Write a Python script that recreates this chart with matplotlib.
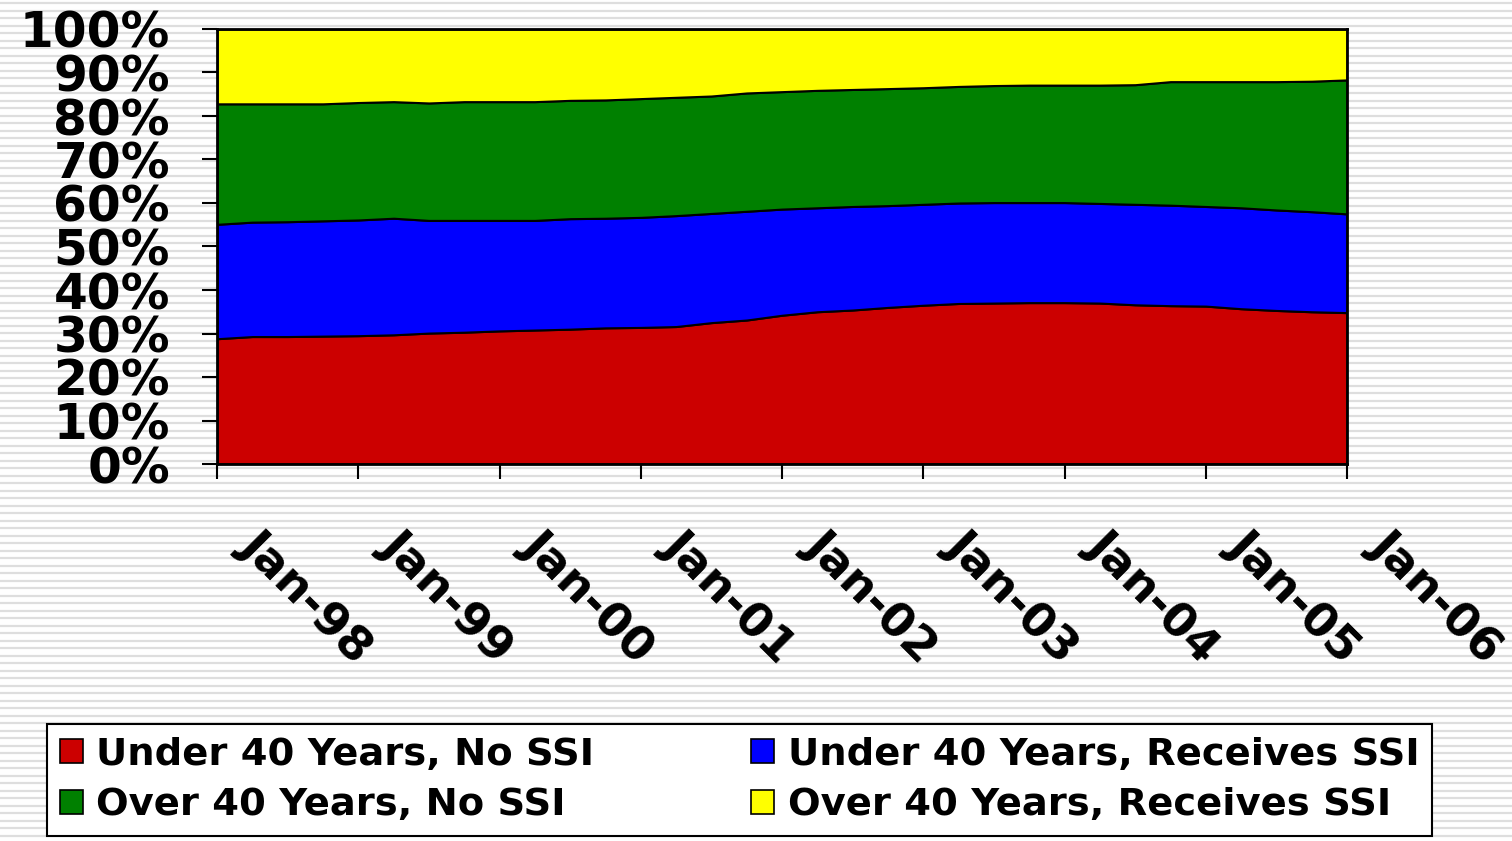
import matplotlib.pyplot as plt
import numpy as np
from matplotlib.patches import Patch
from matplotlib.transforms import ScaledTranslation

# Quarterly shares (%) from Jan-98 to Jan-06
meses = list(range(0, 97, 3))
under_no_ssi = [28.8, 29.3, 29.3, 29.4, 29.5, 29.7, 30.1, 30.3, 30.6, 30.8, 31.0, 31.3,
                31.4, 31.6, 32.5, 33.1, 34.2, 35.0, 35.4, 36.0, 36.5, 36.9, 37.0, 37.1,
                37.1, 37.0, 36.6, 36.4, 36.3, 35.7, 35.3, 35.0, 34.8]
under_ssi = [26.3, 26.3, 26.4, 26.5, 26.6, 26.8, 25.9, 25.7, 25.4, 25.2, 25.4, 25.2,
             25.3, 25.5, 25.1, 25.0, 24.4, 23.9, 23.8, 23.4, 23.2, 23.1, 23.1, 23.0,
             23.0, 22.9, 23.1, 23.1, 22.9, 23.2, 23.1, 23.0, 22.7]
over_no_ssi = [27.7, 27.2, 27.1, 26.9, 27.0, 26.8, 27.0, 27.3, 27.3, 27.3, 27.2, 27.2,
               27.3, 27.2, 27.0, 27.2, 27.0, 27.0, 26.9, 26.9, 26.8, 26.8, 26.9, 27.0,
               27.0, 27.2, 27.5, 28.4, 28.7, 29.0, 29.5, 30.0, 30.8]
over_ssi = [17.2, 17.2, 17.2, 17.2, 16.9, 16.7, 17.0, 16.7, 16.7, 16.7, 16.4, 16.3,
            16.0, 15.7, 15.4, 14.7, 14.4, 14.1, 13.9, 13.7, 13.5, 13.2, 13.0, 12.9,
            12.9, 12.9, 12.8, 12.1, 12.1, 12.1, 12.1, 12.0, 11.7]

etiquetas_x = ['Jan-98', 'Jan-99', 'Jan-00', 'Jan-01', 'Jan-02',
               'Jan-03', 'Jan-04', 'Jan-05', 'Jan-06']
nombres = ['Under 40 Years, No SSI', 'Under 40 Years, Receives SSI',
           'Over 40 Years, No SSI', 'Over 40 Years, Receives SSI']
colores = ['#CC0000', '#0000FF', '#008000', '#FFFF00']

plt.rcParams['font.family'] = 'DejaVu Sans'
plt.rcParams['font.weight'] = 'bold'

fig = plt.figure(figsize=(15.12, 8.41), dpi=100)

# fondo rayado
fondo = fig.add_axes([0, 0, 1, 1], zorder=-10)
fondo.set_xlim(0, 1512)
fondo.set_ylim(841, 0)
for y in np.arange(3, 841, 7.5):
    fondo.axhline(y, color='#dedede', linewidth=1.6)
fondo.axis('off')

ax = fig.add_axes([217 / 1512, 1 - 464 / 841, 1130 / 1512, 435 / 841])
ax.stackplot(meses, under_no_ssi, under_ssi, over_no_ssi, over_ssi,
             colors=colores, edgecolor='black', linewidth=1.5)
ax.set_xlim(0, 96)
ax.set_ylim(0, 100)

ax.set_yticks(range(0, 101, 10))
ax.set_yticklabels([f'{v}%' for v in range(0, 101, 10)], fontsize=35, fontweight='bold')
ax.set_xticks(range(0, 97, 12))
ax.set_xticklabels(etiquetas_x, fontsize=33.5, fontweight='bold',
                   rotation=-45, ha='left', va='top', rotation_mode='anchor')
ax.tick_params(axis='y', direction='out', length=11, width=1.5, pad=23)
ax.tick_params(axis='x', direction='out', length=11, width=1.5, pad=31)
desplaz = ScaledTranslation(0.46, 0, fig.dpi_scale_trans)
for lbl in ax.get_xticklabels():
    lbl.set_transform(lbl.get_transform() + desplaz)
for s in ax.spines.values():
    s.set_linewidth(2)
    s.set_color('black')

# leyenda
handles = [Patch(facecolor=c, edgecolor='black', linewidth=1.2) for c in colores]
orden = [0, 2, 1, 3]
leg = fig.legend([handles[i] for i in orden], [nombres[i] for i in orden],
                 ncol=2, loc='center', mode='expand',
                 bbox_to_anchor=(47 / 1512, 5 / 841, 1385 / 1512, 112 / 841),
                 prop={'size': 27.7, 'weight': 'bold'},
                 handlelength=0.6, handleheight=0.6, handletextpad=0.35,
                 labelspacing=0.38, borderpad=0.33, borderaxespad=0,
                 fancybox=False, edgecolor='black', framealpha=1)
leg.get_frame().set_linewidth(1.5)

plt.savefig('out.png', dpi=100)
